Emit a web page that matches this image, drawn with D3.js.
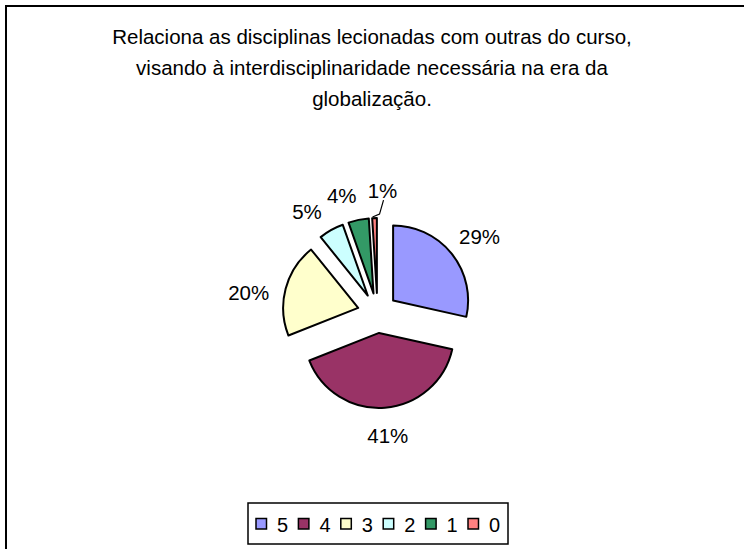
<!DOCTYPE html>
<html>
<head>
<meta charset="utf-8">
<script src="https://cdn.jsdelivr.net/npm/d3@7"></script>
<style>
  html, body { margin: 0; padding: 0; background: #ffffff; }
  svg { display: block; }
  text { font-family: "Liberation Sans", Arial, sans-serif; fill: #000; }
</style>
</head>
<body>
<svg id="chart" width="744" height="549"></svg>
<script>
// ---- data (percent shares; labels show them rounded) ----
const categories = ["5", "4", "3", "2", "1", "0"];
const values = [28.5, 40.5, 20.2, 5.4, 4.4, 1.0];
const colors = ["#9999FF", "#993366", "#FFFFCC", "#CCFFFF", "#339966", "#FF8080"];
const titleLines = [
  "Relaciona as disciplinas lecionadas com outras do curso,",
  "visando à interdisciplinaridade necessária na era da",
  "globalização."
];

// ---- layout ----
const W = 744, H = 549;
const cx = 377.5, cy = 313, R = 75, explode = 20, labelGap = 20;
const leftShift = 6 * Math.PI / 180; // labels on the left side sit slightly counter-clockwise

const svg = d3.select("#chart");

svg.append("rect").attr("x", 0).attr("y", 0).attr("width", W).attr("height", H).attr("fill", "#fff");
svg.append("rect").attr("x", 6).attr("y", 6).attr("width", 800).attr("height", 600)
  .attr("fill", "none").attr("stroke", "#000").attr("stroke-width", 2);

// title
const title = svg.append("text").attr("text-anchor", "middle").style("font-size", "20.5px");
titleLines.forEach((t, i) => {
  title.append("tspan").attr("x", 372).attr("y", 44 + i * 31).text(t);
});

// pie
const total = d3.sum(values);
const pie = d3.pie().sort(null).value(d => d)(values);
const arc = d3.arc().innerRadius(0).outerRadius(R);
const g = svg.append("g").attr("transform", `translate(${cx},${cy})`);

const mid = d => (d.startAngle + d.endAngle) / 2;
const dir = a => [Math.sin(a), -Math.cos(a)];

g.selectAll("path.slice").data(pie).enter().append("path")
  .attr("class", "slice")
  .attr("transform", d => { const [dx, dy] = dir(mid(d)); return `translate(${dx * explode},${dy * explode})`; })
  .attr("d", arc)
  .attr("fill", (d, i) => colors[i])
  .attr("stroke", "#000").attr("stroke-width", 2).attr("stroke-linejoin", "round");

// labels
const fmt = v => Math.round(v / total * 100 + 1e-6) + "%";
const labelH = 16;
pie.forEach((d, i) => {
  const a = mid(d);
  const [ux, uy] = dir(a);
  const ox = ux * explode, oy = uy * explode;
  const txt = fmt(d.value);
  const labelW = txt.length * 10.5;
  let lx, ly;
  if (d.value / total < 0.02) {
    // small slice: lifted label with a leader line
    const px = ox + ux * R, py = oy + uy * R;
    lx = px + 8; ly = py - 28;
    g.append("polyline")
      .attr("points", [[px - 2, py - 1], [px + 5, py - 4], [lx + 1, ly + 10]].map(p => p.join(",")).join(" "))
      .attr("fill", "none").attr("stroke", "#000").attr("stroke-width", 1.2);
  } else {
    const la = a > Math.PI ? a - leftShift : a;
    const [vx, vy] = dir(la);
    const rr = R + labelGap;
    lx = ox + vx * rr + vx * labelW / 2;
    ly = oy + vy * rr + vy * labelH / 2;
  }
  g.append("text").attr("x", lx).attr("y", ly + 7.5)
    .attr("text-anchor", "middle").style("font-size", "20.5px")
    .text(txt);
});

// legend
const lg = svg.append("g");
lg.append("rect").attr("x", 248).attr("y", 503).attr("width", 260).attr("height", 41)
  .attr("fill", "#fff").attr("stroke", "#000").attr("stroke-width", 1.5);
const legX = d3.scalePoint().domain(categories).range([256, 468]);
categories.forEach((c, i) => {
  const x = legX(c);
  lg.append("rect").attr("x", x).attr("y", 518.5).attr("width", 10.5).attr("height", 10.5)
    .attr("fill", colors[i]).attr("stroke", "#000").attr("stroke-width", 1.5);
  lg.append("text").attr("x", x + 21).attr("y", 532).style("font-size", "20px").text(c);
});
</script>
</body>
</html>
